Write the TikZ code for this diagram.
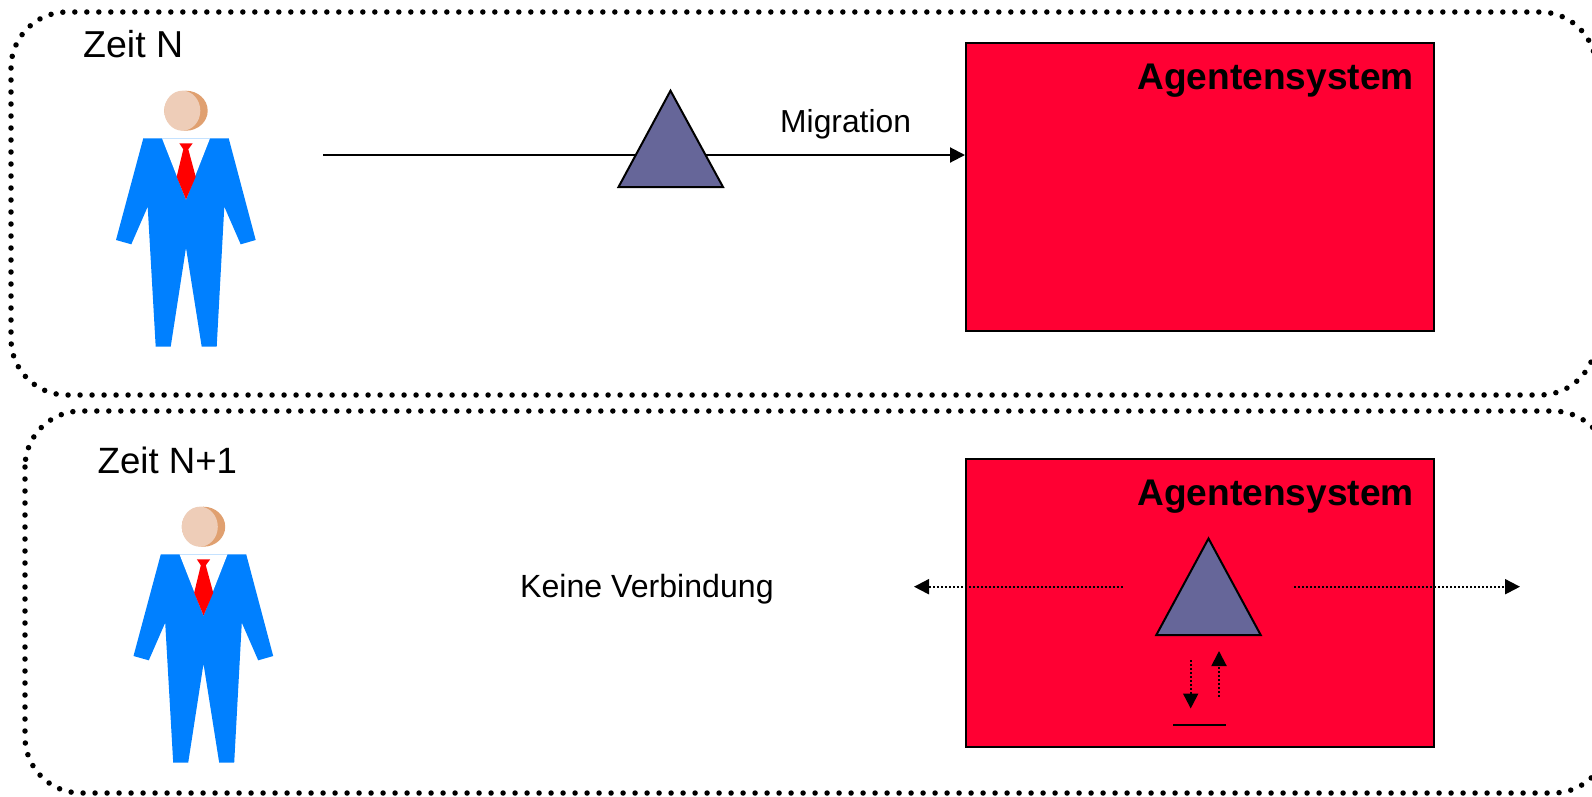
\documentclass[tikz,border=0pt]{standalone}
\usepackage{fontspec}
\setmainfont{Liberation Sans}
\usetikzlibrary{arrows.meta}
\definecolor{sysred}{HTML}{FF0033}
\definecolor{agent}{HTML}{666699}
\definecolor{suit}{HTML}{0080FF}
\definecolor{skin}{HTML}{EECDB8}
\definecolor{skindark}{HTML}{E0A070}
\tikzset{
  zone/.style={line width=5.5pt,line cap=round,dash pattern=on 0pt off 12pt,rounded corners=56pt},
  sysbox/.style={draw=black,line width=2pt,fill=sysred,minimum width=468pt,minimum height=287.5pt,inner sep=0pt,anchor=north west},
  agenttri/.style={draw=black,line width=2pt,fill=agent,line join=miter},
  arrowhd/.style={-{Triangle[length=15pt,width=15pt]}},
  solidconn/.style={line width=2pt,arrowhd},
  dotconn/.style={line width=2pt,dash pattern=on 2pt off 2pt,arrowhd},
  bigtxt/.style={font=\fontsize{37.5}{40}\selectfont,anchor=base west,inner sep=0pt},
  bigtxtb/.style={font=\fontsize{36.6}{40}\selectfont,anchor=base west,inner sep=0pt},
  midtxt/.style={font=\fontsize{31.8}{36}\selectfont,anchor=base west,inner sep=0pt},
  midtxtb/.style={font=\fontsize{32.1}{36}\selectfont,anchor=base west,inner sep=0pt},
  systxt/.style={font=\fontsize{37.1}{40}\selectfont\bfseries,anchor=base east,inner sep=0pt},
  person/.pic={
    \fill[suit] (43.3,68.3) -- (62,68.3) -- (110,68.3) -- (128.7,68.3) -- (155.7,170) -- (140.7,174.3) -- (124.3,136.7)
      -- (116.7,276.7) -- (101.7,276.7) -- (86,177.7) -- (70.7,276.7) -- (55.7,276.7) -- (47.7,136.7) -- (31.3,174.3) -- (16,170) -- cycle;
    \fill[white] (62,68.3) -- (110,68.3) -- (86,129.5) -- cycle;
    \fill[red] (79.3,73.3) -- (92.7,73.3) -- (88.3,79.3) -- (95.7,106.7) -- (86,129.5) -- (76.7,106.7) -- (83.3,79.3) -- cycle;
    \fill[skindark] (86,40.7) ellipse [x radius=21.7pt,y radius=20pt];
    \fill[skin] (82.3,40.7) ellipse [x radius=18pt,y radius=20pt];
  }
}
\begin{document}
\begin{tikzpicture}[x=1pt,y=-1pt]
\useasboundingbox (0,0) rectangle (1592,796);
\fill[white] (0,0) rectangle (1592,796);
% zones
\draw[zone] (11,12) rectangle (1596,395);
\draw[zone] (25,411) rectangle (1609,793);
% persons
\pic at (100,70) {person};
\pic at (117.5,486) {person};
% systems
\node[sysbox] (sysA) at (965,42) {};
\node[sysbox] (sysB) at (965,458) {};
% free ends
\coordinate (migStart) at (323,155);
\coordinate (migEnd) at (sysA.west |- migStart);
\draw[solidconn] (migStart) -- (migEnd);
% agent triangles
\coordinate (triAtop) at (670.5,90.7);
\coordinate (triAl) at (618.5,187);
\coordinate (triAr) at (723,187);
\draw[agenttri] (triAtop) -- (triAl) -- (triAr) -- cycle;
\coordinate (triBtop) at (1208.5,538.5);
\coordinate (triBl) at (1156.3,635);
\coordinate (triBr) at (1260.7,635);
\draw[agenttri] (triBtop) -- (triBl) -- (triBr) -- cycle;
% dotted connectors
\coordinate (leftStart) at (1122.7,586.7);
\coordinate (leftEnd) at (914,586.7);
\coordinate (rightStart) at (1294,586.7);
\coordinate (rightEnd) at (1520,586.7);
\draw[dotconn] (leftStart) -- (leftEnd);
\draw[dotconn] (rightStart) -- (rightEnd);
\coordinate (downStart) at (1190.7,660);
\coordinate (downEnd) at (1190.7,708.5);
\coordinate (upStart) at (1219,696.7);
\coordinate (upEnd) at (1219,651);
\draw[dotconn] (downStart) -- (downEnd);
\draw[dotconn] (upStart) -- (upEnd);
\coordinate (barL) at (1173.3,725);
\coordinate (barR) at (1226,725);
\draw[line width=2pt] (barL) -- (barR);
% labels
\node[bigtxt] (zeitN) at (83,57.5) {Zeit N};
\node[bigtxtb] (zeitN1) at (97.5,473) {Zeit N+1};
\node[systxt] (agsysA) at (1414,89) {Agentensystem};
\node[systxt] (agsysB) at (1414,505) {Agentensystem};
\node[midtxt] (mig) at (780,132.5) {Migration};
\node[midtxtb] (keine) at (520,597.5) {Keine Verbindung};
\end{tikzpicture}
\end{document}
